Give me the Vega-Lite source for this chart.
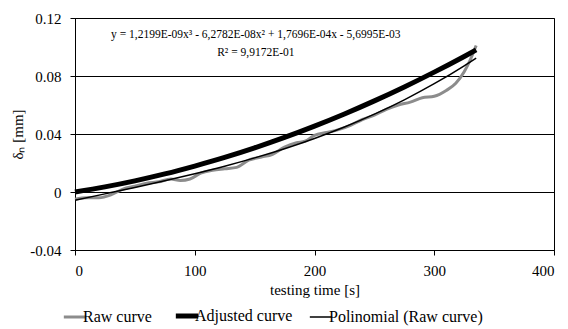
{
  "$schema": "https://vega.github.io/schema/vega-lite/v6.json",
  "width": 479,
  "height": 232,
  "autosize": {"type": "none"},
  "padding": {"left": 75, "top": 18, "right": 14, "bottom": 79},
  "background": "white",
  "config": {
    "font": "Liberation Serif",
    "view": {"stroke": "black", "strokeWidth": 1},
    "axis": {"labelFont": "Liberation Serif", "titleFont": "Liberation Serif", "labelFontSize": 15, "titleFontSize": 15, "titleFontWeight": "normal", "labelColor": "black", "titleColor": "black", "domainColor": "black", "tickColor": "black", "gridColor": "black", "gridOpacity": 1, "tickSize": 5},
    "legend": {"labelFont": "Liberation Serif", "labelFontSize": 16, "labelColor": "black"}
  },
  "datasets": {
    "curves": [
      {"t": 0, "v": -0.005, "series": "Raw curve"},
      {"t": 10, "v": -0.004, "series": "Raw curve"},
      {"t": 20, "v": -0.004, "series": "Raw curve"},
      {"t": 30, "v": -0.002, "series": "Raw curve"},
      {"t": 40, "v": 0.002, "series": "Raw curve"},
      {"t": 50, "v": 0.004, "series": "Raw curve"},
      {"t": 60, "v": 0.006, "series": "Raw curve"},
      {"t": 70, "v": 0.007, "series": "Raw curve"},
      {"t": 80, "v": 0.009, "series": "Raw curve"},
      {"t": 88, "v": 0.008, "series": "Raw curve"},
      {"t": 96, "v": 0.009, "series": "Raw curve"},
      {"t": 105, "v": 0.013, "series": "Raw curve"},
      {"t": 115, "v": 0.015, "series": "Raw curve"},
      {"t": 125, "v": 0.016, "series": "Raw curve"},
      {"t": 135, "v": 0.017, "series": "Raw curve"},
      {"t": 145, "v": 0.022, "series": "Raw curve"},
      {"t": 155, "v": 0.024, "series": "Raw curve"},
      {"t": 165, "v": 0.026, "series": "Raw curve"},
      {"t": 175, "v": 0.031, "series": "Raw curve"},
      {"t": 185, "v": 0.034, "series": "Raw curve"},
      {"t": 192, "v": 0.035, "series": "Raw curve"},
      {"t": 200, "v": 0.039, "series": "Raw curve"},
      {"t": 210, "v": 0.041, "series": "Raw curve"},
      {"t": 220, "v": 0.043, "series": "Raw curve"},
      {"t": 230, "v": 0.046, "series": "Raw curve"},
      {"t": 240, "v": 0.05, "series": "Raw curve"},
      {"t": 250, "v": 0.053, "series": "Raw curve"},
      {"t": 260, "v": 0.057, "series": "Raw curve"},
      {"t": 270, "v": 0.06, "series": "Raw curve"},
      {"t": 280, "v": 0.062, "series": "Raw curve"},
      {"t": 290, "v": 0.065, "series": "Raw curve"},
      {"t": 300, "v": 0.066, "series": "Raw curve"},
      {"t": 310, "v": 0.07, "series": "Raw curve"},
      {"t": 318, "v": 0.075, "series": "Raw curve"},
      {"t": 325, "v": 0.083, "series": "Raw curve"},
      {"t": 330, "v": 0.091, "series": "Raw curve"},
      {"t": 335, "v": 0.101, "series": "Raw curve"},
      {"t": 0, "v": 0, "series": "Adjusted curve"},
      {"t": 25, "v": 0.00355, "series": "Adjusted curve"},
      {"t": 50, "v": 0.00771, "series": "Adjusted curve"},
      {"t": 75, "v": 0.01248, "series": "Adjusted curve"},
      {"t": 100, "v": 0.0179, "series": "Adjusted curve"},
      {"t": 125, "v": 0.02383, "series": "Adjusted curve"},
      {"t": 150, "v": 0.03042, "series": "Adjusted curve"},
      {"t": 175, "v": 0.03761, "series": "Adjusted curve"},
      {"t": 200, "v": 0.04541, "series": "Adjusted curve"},
      {"t": 225, "v": 0.05381, "series": "Adjusted curve"},
      {"t": 250, "v": 0.06283, "series": "Adjusted curve"},
      {"t": 275, "v": 0.07244, "series": "Adjusted curve"},
      {"t": 300, "v": 0.08267, "series": "Adjusted curve"},
      {"t": 325, "v": 0.0935, "series": "Adjusted curve"},
      {"t": 335, "v": 0.098, "series": "Adjusted curve"},
      {"t": 0, "v": -0.0057, "series": "Polinomial (Raw curve)"},
      {"t": 25, "v": -0.0013, "series": "Polinomial (Raw curve)"},
      {"t": 50, "v": 0.00314, "series": "Polinomial (Raw curve)"},
      {"t": 75, "v": 0.00773, "series": "Polinomial (Raw curve)"},
      {"t": 100, "v": 0.01259, "series": "Polinomial (Raw curve)"},
      {"t": 125, "v": 0.01782, "series": "Polinomial (Raw curve)"},
      {"t": 150, "v": 0.02355, "series": "Polinomial (Raw curve)"},
      {"t": 175, "v": 0.02988, "series": "Polinomial (Raw curve)"},
      {"t": 200, "v": 0.03694, "series": "Polinomial (Raw curve)"},
      {"t": 225, "v": 0.04483, "series": "Polinomial (Raw curve)"},
      {"t": 250, "v": 0.05368, "series": "Polinomial (Raw curve)"},
      {"t": 275, "v": 0.06359, "series": "Polinomial (Raw curve)"},
      {"t": 300, "v": 0.07468, "series": "Polinomial (Raw curve)"},
      {"t": 325, "v": 0.08706, "series": "Polinomial (Raw curve)"},
      {"t": 335, "v": 0.0924, "series": "Polinomial (Raw curve)"}
    ],
    "labels": [
      {"t": 151, "v": 0.1083, "text": "y = 1,2199E-09x³ - 6,2782E-08x² + 1,7696E-04x - 5,6995E-03"},
      {"t": 151, "v": 0.0959, "text": "R² = 9,9172E-01"}
    ]
  },
  "encoding": {
    "x": {"field": "t", "type": "quantitative", "scale": {"domain": [0, 400], "nice": false},
      "axis": {"values": [0, 100, 200, 300, 400], "title": "testing time [s]", "grid": false, "labelPadding": 8, "titlePadding": 4, "labelFont": "Liberation Serif", "titleFont": "Liberation Serif"}},
    "y": {"field": "v", "type": "quantitative", "scale": {"domain": [-0.04, 0.12], "nice": false, "zero": false},
      "axis": {"values": [-0.04, 0, 0.04, 0.08, 0.12], "format": ".2~f", "labelExpr": "replace(datum.label, '−', '-')", "title": "δₙ [mm]", "grid": true, "labelPadding": 9, "titlePadding": 4, "labelFont": "Liberation Serif", "titleFont": "Liberation Serif"}}
  },
  "layer": [
    {
      "data": {"name": "curves"},
      "transform": [{"filter": "datum.series === 'Raw curve'"}],
      "mark": {"type": "line", "interpolate": "monotone", "strokeWidth": 3},
      "encoding": {
        "color": {"field": "series", "type": "nominal", "scale": {"domain": ["Raw curve", "Adjusted curve", "Polinomial (Raw curve)"], "range": ["#8c8c8c", "black", "black"]},
          "legend": {"orient": "none", "direction": "horizontal", "legendX": -8, "legendY": 290, "title": null, "symbolType": "stroke", "symbolSize": 500, "columnPadding": 13, "labelOffset": 0,
            "encode": {"symbols": {"update": {"strokeWidth": {"signal": "datum.value === 'Adjusted curve' ? 5 : (datum.value === 'Raw curve' ? 3 : 1.5)"}}}}}}
      }
    },
    {
      "data": {"name": "curves"},
      "transform": [{"filter": "datum.series === 'Adjusted curve'"}],
      "mark": {"type": "line", "interpolate": "monotone", "strokeWidth": 5},
      "encoding": {
        "color": {"field": "series", "type": "nominal"}
      }
    },
    {
      "data": {"name": "curves"},
      "transform": [{"filter": "datum.series === 'Polinomial (Raw curve)'"}],
      "mark": {"type": "line", "interpolate": "monotone", "strokeWidth": 1.5},
      "encoding": {
        "color": {"field": "series", "type": "nominal"}
      }
    },
    {
      "data": {"name": "labels"},
      "mark": {"type": "text", "font": "Liberation Serif", "fontSize": 11.5, "color": "black", "align": "center", "baseline": "middle"},
      "encoding": {"text": {"field": "text", "type": "nominal"}}
    }
  ]
}
